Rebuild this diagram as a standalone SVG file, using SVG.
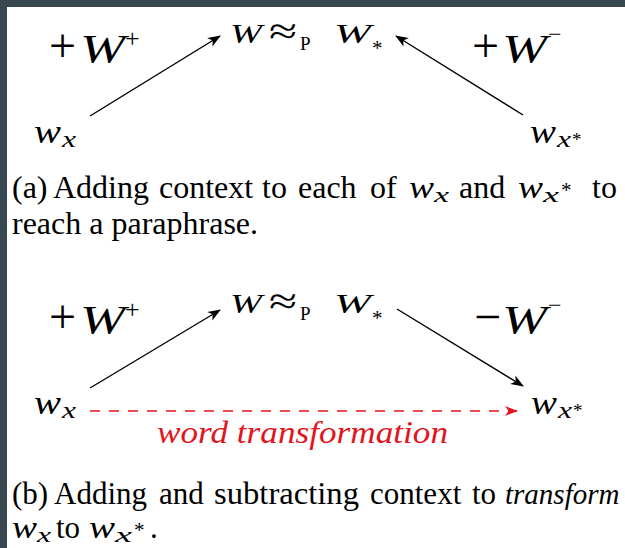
<svg xmlns="http://www.w3.org/2000/svg" width="625" height="548" viewBox="0 0 625 548">
<style>
.t{font-family:'Liberation Serif','DejaVu Serif',serif;fill:#000}
.i{font-style:italic}
.r{fill:#e3141c}
.cap{font-size:32px}
.capb{font-size:31px}
.big{font-size:40px}
.op{font-size:48px}
.mid{font-size:28px}
.w{font-size:33px;font-style:italic}
.cw{font-size:31px;font-style:italic}
.arrow{stroke:#000;stroke-width:1.4;fill:none;marker-end:url(#ah)}
.dash{stroke:#e3141c;stroke-width:1.4;fill:none;stroke-dasharray:10 9;marker-end:url(#ahr)}
</style>
<defs>
<marker id="ah" markerUnits="userSpaceOnUse" markerWidth="13" markerHeight="11" viewBox="0 0 13 11" refX="12" refY="5.5" orient="auto">
<path d="M0,0.5 L13,5.5 L0,10.5 L3.5,5.5 Z" fill="#000"/>
</marker>
<marker id="ahr" markerUnits="userSpaceOnUse" markerWidth="13" markerHeight="11" viewBox="0 0 13 11" refX="12" refY="5.5" orient="auto">
<path d="M0,0.5 L13,5.5 L0,10.5 L3.5,5.5 Z" fill="#e3141c"/>
</marker>
</defs>
<rect x="0" y="0" width="625" height="548" fill="#fff"/>
<rect x="0" y="0" width="625" height="7" fill="#37474f"/>
<rect x="0" y="0" width="7" height="548" fill="#37474f"/>

<g id="connectors">
<line class="arrow" x1="90" y1="116" x2="220" y2="36"/>
<line class="arrow" x1="523" y1="115" x2="396" y2="36"/>
<line class="arrow" x1="90" y1="388" x2="220" y2="310"/>
<line class="arrow" x1="397" y1="309" x2="523" y2="386"/>
<line class="dash" x1="90" y1="411" x2="517" y2="411"/>
</g>

<g id="a-plusW">
<text class="t op" x="49" y="62">+</text>
<text class="t big i" x="80" y="62" textLength="45" lengthAdjust="spacingAndGlyphs">W</text>
<text class="t" x="125" y="47" font-size="26">+</text>
</g>
<g id="a-center">
<text class="t mid i" x="230" y="43" textLength="32" lengthAdjust="spacingAndGlyphs">W</text>
<text class="t" x="269" y="44" font-size="38" textLength="28" lengthAdjust="spacingAndGlyphs">≈</text>
<text class="t" x="300" y="50" font-size="19">P</text>
<text class="t mid i" x="334" y="43" textLength="37" lengthAdjust="spacingAndGlyphs">W</text>
<text class="t" x="372" y="55" font-size="21">*</text>
</g>
<g id="a-plusWminus">
<text class="t op" x="472" y="62">+</text>
<text class="t big i" x="502" y="62" textLength="45" lengthAdjust="spacingAndGlyphs">W</text>
<text class="t" x="548" y="42" font-size="24">−</text>
</g>
<g id="a-wx">
<text class="t w" x="34" y="143" textLength="27" lengthAdjust="spacingAndGlyphs">w</text>
<text class="t i" x="62" y="147" font-size="23" textLength="14" lengthAdjust="spacingAndGlyphs">x</text>
</g>
<g id="a-wxstar">
<text class="t w" x="530" y="143" textLength="26" lengthAdjust="spacingAndGlyphs">w</text>
<text class="t i" x="557" y="147" font-size="23" textLength="14" lengthAdjust="spacingAndGlyphs">x</text>
<text class="t" x="572" y="146" font-size="19">*</text>
</g>
<g id="a-caption">
<text class="t cap" x="12" y="198">(a)</text>
<text class="t cap" x="53" y="198">Adding</text>
<text class="t cap" x="159" y="198">context</text>
<text class="t cap" x="262" y="198">to</text>
<text class="t cap" x="298" y="198">each</text>
<text class="t cap" x="370" y="198">of</text>
<text class="t cw" x="409" y="198" textLength="25" lengthAdjust="spacingAndGlyphs">w</text>
<text class="t i" x="434" y="202" font-size="22" textLength="15" lengthAdjust="spacingAndGlyphs">x</text>
<text class="t cap" x="459" y="198">and</text>
<text class="t cw" x="518" y="198" textLength="25" lengthAdjust="spacingAndGlyphs">w</text>
<text class="t i" x="543" y="202" font-size="22" textLength="16" lengthAdjust="spacingAndGlyphs">x</text>
<text class="t" x="561" y="197" font-size="21">*</text>
<text class="t cap" x="592" y="198">to</text>
<text class="t cap" x="12" y="234">reach a paraphrase.</text>
</g>

<g id="b-plusW">
<text class="t op" x="49" y="333">+</text>
<text class="t big i" x="80" y="333" textLength="45" lengthAdjust="spacingAndGlyphs">W</text>
<text class="t" x="125" y="318" font-size="26">+</text>
</g>
<g id="b-center">
<text class="t mid i" x="230" y="313" textLength="32" lengthAdjust="spacingAndGlyphs">W</text>
<text class="t" x="269" y="314" font-size="38" textLength="28" lengthAdjust="spacingAndGlyphs">≈</text>
<text class="t" x="300" y="320" font-size="19">P</text>
<text class="t mid i" x="334" y="313" textLength="37" lengthAdjust="spacingAndGlyphs">W</text>
<text class="t" x="372" y="325" font-size="21">*</text>
</g>
<g id="b-minusW">
<text class="t op" x="474" y="333">−</text>
<text class="t big i" x="502" y="333" textLength="45" lengthAdjust="spacingAndGlyphs">W</text>
<text class="t" x="548" y="313" font-size="24">−</text>
</g>
<g id="b-wx">
<text class="t w" x="34" y="414" textLength="27" lengthAdjust="spacingAndGlyphs">w</text>
<text class="t i" x="62" y="418" font-size="23" textLength="14" lengthAdjust="spacingAndGlyphs">x</text>
</g>
<g id="b-wxstar">
<text class="t w" x="531" y="414" textLength="26" lengthAdjust="spacingAndGlyphs">w</text>
<text class="t i" x="558" y="418" font-size="23" textLength="14" lengthAdjust="spacingAndGlyphs">x</text>
<text class="t" x="573" y="417" font-size="19">*</text>
</g>
<g id="b-label">
<text class="t i r" x="157" y="443" font-size="31" textLength="291" lengthAdjust="spacingAndGlyphs">word transformation</text>
</g>
<g id="b-caption">
<text class="t capb" x="12" y="504">(b)</text>
<text class="t capb" x="54" y="504">Adding</text>
<text class="t capb" x="159" y="504">and</text>
<text class="t capb" x="214" y="504" textLength="145" lengthAdjust="spacingAndGlyphs">subtracting</text>
<text class="t capb" x="370" y="504">context</text>
<text class="t capb" x="472" y="504">to</text>
<text class="t i" x="505" y="504" font-size="29">transform</text>
<text class="t cw" x="12" y="538" textLength="25" lengthAdjust="spacingAndGlyphs">w</text>
<text class="t i" x="37" y="542" font-size="22" textLength="14" lengthAdjust="spacingAndGlyphs">x</text>
<text class="t capb" x="56" y="538">to</text>
<text class="t cw" x="89" y="538" textLength="26" lengthAdjust="spacingAndGlyphs">w</text>
<text class="t i" x="115" y="542" font-size="22" textLength="17" lengthAdjust="spacingAndGlyphs">x</text>
<text class="t" x="134" y="537" font-size="21">*</text>
<text class="t capb" x="150" y="538">.</text>
</g>
</svg>
